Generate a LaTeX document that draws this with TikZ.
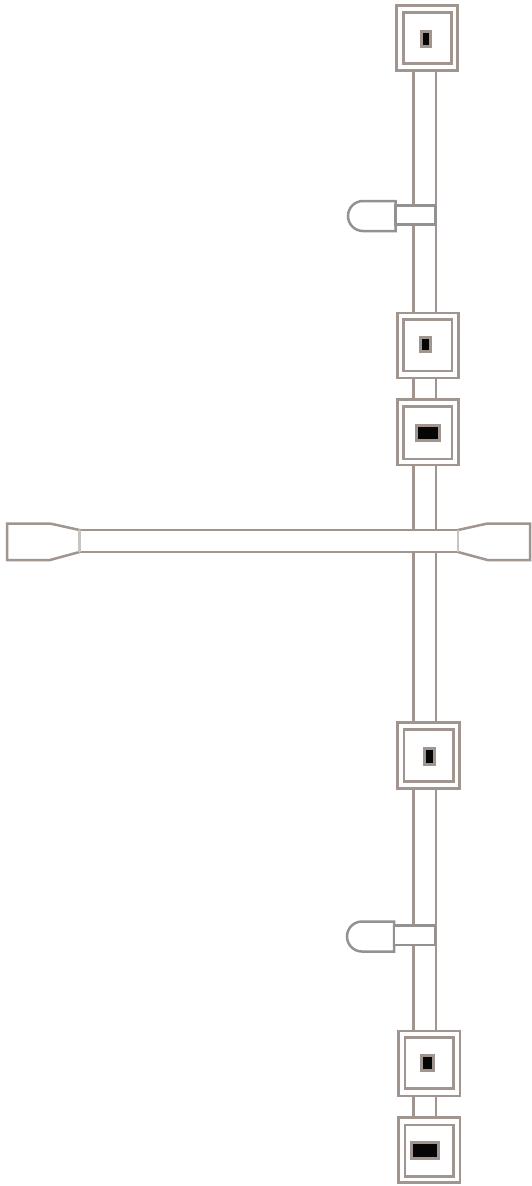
\documentclass[tikz,border=0pt]{standalone}
\definecolor{pipe}{HTML}{A0968F}
\definecolor{lampc}{HTML}{929292}
\definecolor{endc}{HTML}{C8C4C0}
\definecolor{corec}{HTML}{050505}
\tikzset{
  pipeline/.style={draw=pipe,line width=2.5pt},
  boxline/.style={draw=pipe,line width=2.7pt,fill=white},
  coreline/.style={draw=pipe,line width=3pt,fill=corec},
  lampline/.style={draw=lampc,line width=2.5pt,fill=white},
  endline/.style={draw=endc,line width=2.4pt}
}
\begin{document}
\begin{tikzpicture}[x=1pt,y=-1pt]
\useasboundingbox (0,0) rectangle (531,1186);
\fill[white] (0,0) rectangle (531,1186);
% vertical pipe
\foreach \ya/\yb in {70/313,378/400,465/530,552/723,789/1031,1096/1118}{
  \draw[pipeline] (413.7,\ya) -- (413.7,\yb);
  \draw[pipeline] (436.2,\ya) -- (436.2,\yb);
}
% horizontal bar and flared ends
\draw[pipeline] (79.5,530) -- (458,530);
\draw[pipeline] (79.5,552) -- (458,552);
\draw[pipeline,line join=miter] (79.5,530) -- (50,523.5) -- (7,523.5) -- (7,560) -- (50,560) -- (79.5,552);
\draw[pipeline,line join=miter] (458,530) -- (487.5,523.5) -- (530,523.5) -- (530,560) -- (487.5,560) -- (458,552);
\draw[endline] (79.5,530) -- (79.5,552);
\draw[endline] (458,530) -- (458,552);
% lamps
\draw[lampline] (395.5,201) -- (363,201) arc[start angle=270,end angle=90,radius=15] -- (395.5,231) -- cycle;
\draw[lampline] (395.5,205.5) rectangle (435.5,224.5);
\draw[lampline] (394,921.5) -- (362,921.5) arc[start angle=270,end angle=90,radius=15] -- (394,951.5) -- cycle;
\draw[lampline] (394,925.5) rectangle (435,945);
% boxes
\draw[boxline] (396.8,5.2) rectangle (457.6,70.4);
\draw[boxline] (403.5,12.5) rectangle (451.3,63.5);
\draw[coreline] (421.2,31.2) rectangle (430.6,46);
\draw[boxline] (397.5,313) rectangle (458.3,378);
\draw[boxline] (403.8,319.8) rectangle (452,371);
\draw[coreline] (420.4,337.2) rectangle (430.2,351.6);
\draw[boxline] (397.5,399.5) rectangle (458.5,465);
\draw[boxline] (403.5,406.8) rectangle (452,459);
\draw[coreline] (416.5,425.2) rectangle (439.6,440.6);
\draw[boxline] (397.5,722.7) rectangle (459.5,788.3);
\draw[boxline] (404,729.8) rectangle (453.5,781.7);
\draw[coreline] (424.2,748.2) rectangle (434.6,764);
\draw[boxline] (398.2,1031) rectangle (460,1096);
\draw[boxline] (405,1037.5) rectangle (453.7,1088.8);
\draw[coreline] (421.2,1055.2) rectangle (433.2,1070.2);
\draw[boxline] (398.2,1117.7) rectangle (460,1182.7);
\draw[boxline] (405,1125) rectangle (453.7,1176.7);
\draw[coreline] (411.5,1142.8) rectangle (438.2,1158.2);
\end{tikzpicture}
\end{document}
